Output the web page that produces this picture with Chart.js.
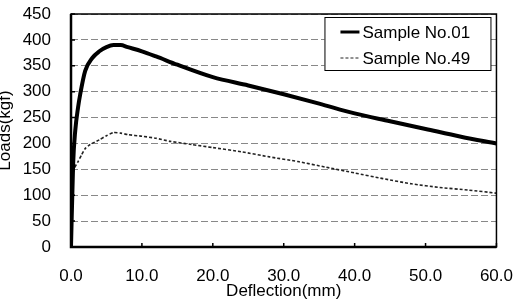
<!DOCTYPE html>
<html>
<head>
<meta charset="utf-8">
<script src="https://cdn.jsdelivr.net/npm/chart.js@4/dist/chart.umd.min.js"></script>
<style>
  html, body { margin: 0; padding: 0; background: #fff; }
  #wrap { width: 515px; height: 302px; }
</style>
</head>
<body>
<div id="wrap"><canvas id="loadChart"></canvas></div>
<script>
// data
const seriesNames = ["Sample No.01", "Sample No.49"];

const defl01 = [0, 0.3, 0.6, 1.0, 1.3, 2, 3, 4, 5, 6, 7, 8, 10, 12, 15, 20, 25, 30, 35, 40, 45, 50, 55, 60];
const load01 = [0, 160, 225, 270, 295, 340, 365, 378, 386, 390, 390, 386, 378, 368, 352, 328, 312, 295, 277, 258, 243, 228, 213, 200];

const defl49 = [0, 0.1, 0.2, 0.4, 1.0, 1.5, 2, 2.7, 4, 5, 6, 7, 8, 10, 12, 14, 17, 20, 24, 28, 32, 36, 40, 44, 48, 52, 56, 60];
const load49 = [0, 60, 120, 150, 165, 178, 190, 198, 207, 215, 221, 220, 217, 214, 210, 204, 198, 192, 184, 174, 165, 154, 143, 132, 122, 115, 110, 104];

const xTicks = [0, 10, 20, 30, 40, 50, 60];
const yTicks = [0, 50, 100, 150, 200, 250, 300, 350, 400, 450];

const FONT = "'Liberation Sans', Arial, sans-serif";

function pts(xs, ys) {
  return xs.map((x, i) => ({ x: x, y: ys[i] }));
}

// frame, inner tick marks and boxed legend
const framePlugin = {
  id: 'frame',
  afterDraw(chart) {
    const ctx = chart.ctx;
    const a = chart.chartArea;
    const sx = chart.scales.x, sy = chart.scales.y;
    ctx.save();
    ctx.strokeStyle = '#000';
    ctx.lineWidth = 1.5;
    ctx.strokeRect(a.left, a.top, a.right - a.left, a.bottom - a.top);
    ctx.lineWidth = 2.5;
    ctx.beginPath();
    ctx.moveTo(a.left, a.top);
    ctx.lineTo(a.left, a.bottom);
    ctx.lineTo(a.right, a.bottom);
    ctx.stroke();

    ctx.lineWidth = 1.5;
    ctx.beginPath();
    xTicks.forEach(v => {
      const px = sx.getPixelForValue(v);
      ctx.moveTo(px, a.bottom);
      ctx.lineTo(px, a.bottom - 4);
    });
    yTicks.forEach(v => {
      const py = sy.getPixelForValue(v);
      ctx.moveTo(a.left, py);
      ctx.lineTo(a.left + 4, py);
    });
    ctx.stroke();

    // legend
    const bx = a.right - 172, by = a.top + 3, bw = 166, bh = 53;
    ctx.fillStyle = '#fff';
    ctx.fillRect(bx, by, bw, bh);
    ctx.lineWidth = 1;
    ctx.strokeStyle = '#000';
    ctx.strokeRect(bx + 0.5, by + 0.5, bw, bh);
    ctx.font = '17px ' + FONT;
    ctx.textBaseline = 'middle';
    chart.data.datasets.forEach((ds, i) => {
      const ly = by + 15 + i * 26;
      ctx.save();
      ctx.strokeStyle = ds.borderColor;
      ctx.lineWidth = i === 0 ? 3 : 1;
      ctx.setLineDash(ds.borderDash || []);
      ctx.beginPath();
      ctx.moveTo(bx + 16, ly);
      ctx.lineTo(bx + 35, ly);
      ctx.stroke();
      ctx.restore();
      ctx.fillStyle = '#000';
      ctx.fillText(ds.label, bx + 38, ly + 1);
    });
    ctx.restore();
  }
};

new Chart(document.getElementById('loadChart'), {
  type: 'line',
  data: {
    datasets: [{
      label: seriesNames[0],
      data: pts(defl01, load01),
      borderColor: '#000',
      borderWidth: 4,
      pointRadius: 0,
      cubicInterpolationMode: 'monotone',
      fill: false
    }, {
      label: seriesNames[1],
      data: pts(defl49, load49),
      borderColor: '#222',
      borderWidth: 1.6,
      borderDash: [3, 2],
      pointRadius: 0,
      tension: 0.2,
      fill: false
    }]
  },
  options: {
    responsive: true,
    maintainAspectRatio: false,
    animation: false,
    layout: { padding: { top: 14, right: 0, left: 0, bottom: 0 } },
    plugins: {
      legend: { display: false },
      tooltip: { enabled: false }
    },
    scales: {
      x: {
        type: 'linear',
        min: 0,
        max: 60,
        afterBuildTicks: (s) => { s.ticks = xTicks.map(v => ({ value: v })); },
        afterFit: (s) => { s.height = 55; },
        grid: { display: false, drawTicks: true, tickLength: 17 },
        border: { display: false },
        ticks: {
          autoSkip: false,
          maxRotation: 0,
          color: '#000',
          padding: 2,
          font: { family: FONT, size: 17 },
          callback: (v) => v.toFixed(1)
        },
        title: {
          display: true,
          text: 'Deflection(mm)',
          color: '#000',
          font: { family: FONT, size: 17 },
          padding: { top: 0, bottom: 0 }
        }
      },
      y: {
        min: 0,
        max: 450,
        afterBuildTicks: (s) => { s.ticks = yTicks.map(v => ({ value: v })); },
        afterFit: (s) => { s.width = 71; },
        grid: {
          color: '#888',
          lineWidth: 1,
          drawTicks: true,
          tickLength: 18,
          tickColor: 'rgba(0,0,0,0)'
        },
        border: { display: false, dash: [7, 3] },
        ticks: {
          autoSkip: false,
          color: '#000',
          padding: 2,
          font: { family: FONT, size: 17 }
        },
        title: {
          display: true,
          text: 'Loads(kgf)',
          color: '#000',
          font: { family: FONT, size: 17 },
          padding: { top: -5, bottom: 0 }
        }
      }
    }
  },
  plugins: [framePlugin]
});
</script>
</body>
</html>
